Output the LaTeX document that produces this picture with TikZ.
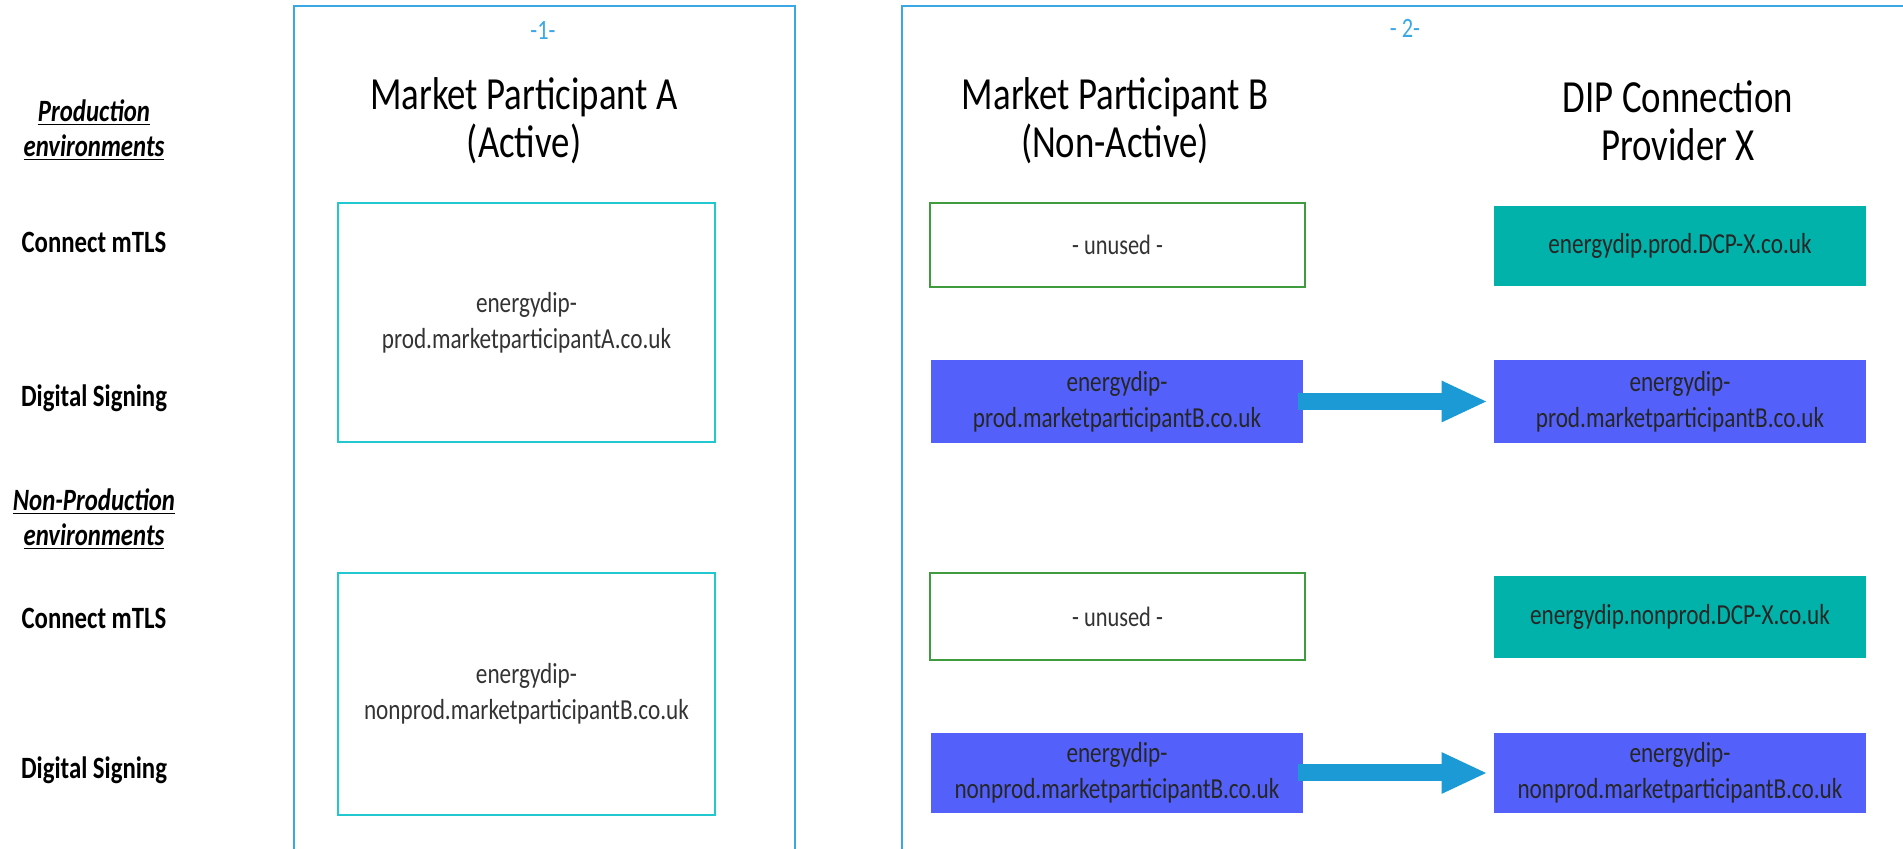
\documentclass[tikz,border=0pt]{standalone}
\usepackage{fontspec}
\setmainfont{Carlito}[FakeStretch=0.8]
\usetikzlibrary{arrows.meta}

\definecolor{framecol}{HTML}{3AA8E4}
\definecolor{boxcyan}{HTML}{22C8CF}
\definecolor{unusedgreen}{HTML}{3E9B3E}
\definecolor{dcpteal}{HTML}{00B2A9}
\definecolor{signblue}{HTML}{5361FA}
\definecolor{arrowblue}{HTML}{1C9AD6}
\definecolor{textgrey}{HTML}{333333}

\begin{document}
\begin{tikzpicture}[x=0.5pt,y=-0.5pt,
		frame/.style={draw=framecol,line width=1pt},
		tag/.style={text=framecol,font=\fontsize{14}{15}\selectfont},
		title/.style={align=center,font=\fontsize{23}{24}\selectfont},
		rowlabel/.style={align=center,font=\fontsize{15.5}{17.5}\selectfont\bfseries},
		certbox/.style={draw=boxcyan,line width=1pt,minimum width=188.5pt,align=center,text=textgrey,font=\fontsize{14.5}{18}\selectfont},
		unusedbox/.style={draw=unusedgreen,line width=1pt,minimum width=187.5pt,align=center,text=textgrey,font=\fontsize{14}{18}\selectfont},
		dcpbox/.style={fill=dcpteal,minimum width=186pt,align=center,text=black!85,font=\fontsize{14.5}{18}\selectfont},
		signbox/.style={fill=signblue,minimum width=186pt,align=center,text=black!85,font=\fontsize{14.5}{18}\selectfont},
		bigarrow/.style={draw=arrowblue,line width=8.5pt,-{Triangle[length=23pt,width=19pt]}}
	]
	\useasboundingbox (0,0) rectangle (1903,849);

	% outer frames
	\draw[frame] (294,849) |- (795,6) -- (795,849);
	\draw[frame] (902,849) |- (1903,6);
	\node (tag1) at (543,30) [tag] {-1-};
	\node (tag2) at (1405,28) [tag] {- 2-};

	% column titles
	\node (mpa) at (524,121) [title] {Market Participant A\\(Active)};
	\node (mpb) at (1115,121) [title] {Market Participant B\\(Non-Active)};
	\node (dcpx) at (1678,121) [title] {DIP Connection\\Provider X};

	% row labels
	\node (prodenv) at (94,130) [rowlabel] {\textit{\underline{Production}}\\\textit{\underline{environments}}};
	\node (pmtls) at (94,242) [rowlabel] {Connect mTLS};
	\node (psign) at (94,398) [rowlabel] {Digital Signing};
	\node (npenv) at (94,519) [rowlabel] {\textit{\underline{Non-Production}}\\\textit{\underline{environments}}};
	\node (nmtls) at (94,618) [rowlabel] {Connect mTLS};
	\node (nsign) at (94,770) [rowlabel] {Digital Signing};

	% participant A
	\node (aprod) at (526.5,322.5) [certbox,minimum height=119.5pt] {energydip-\\prod.marketparticipantA.co.uk};
	\node (anonprod) at (526.5,694) [certbox,minimum height=121pt] {energydip-\\nonprod.marketparticipantB.co.uk};

	% participant B
	\node (bpmtls) at (1117.5,245) [unusedbox,minimum height=42pt] {- unused -};
	\node (bpsign) at (1117,401.5) [signbox,minimum height=41.5pt] {energydip-\\prod.marketparticipantB.co.uk};
	\node (bnmtls) at (1117.5,616.5) [unusedbox,minimum height=43.5pt] {- unused -};
	\node (bnsign) at (1117,773) [signbox,minimum height=40pt] {energydip-\\nonprod.marketparticipantB.co.uk};

	% connection provider X
	\node (xpmtls) at (1680,246) [dcpbox,minimum height=40pt] {energydip.prod.DCP-X.co.uk};
	\node (xpsign) at (1680,401.5) [signbox,minimum height=41.5pt] {energydip-\\prod.marketparticipantB.co.uk};
	\node (xnmtls) at (1680,617) [dcpbox,minimum height=41pt] {energydip.nonprod.DCP-X.co.uk};
	\node (xnsign) at (1680,773) [signbox,minimum height=40pt] {energydip-\\nonprod.marketparticipantB.co.uk};

	\draw[bigarrow] ([xshift=-2.5pt]bpsign.east) -- ([xshift=-3pt]xpsign.west);
	\draw[bigarrow] ([xshift=-2.5pt]bnsign.east) -- ([xshift=-3pt]xnsign.west);
\end{tikzpicture}
\end{document}
